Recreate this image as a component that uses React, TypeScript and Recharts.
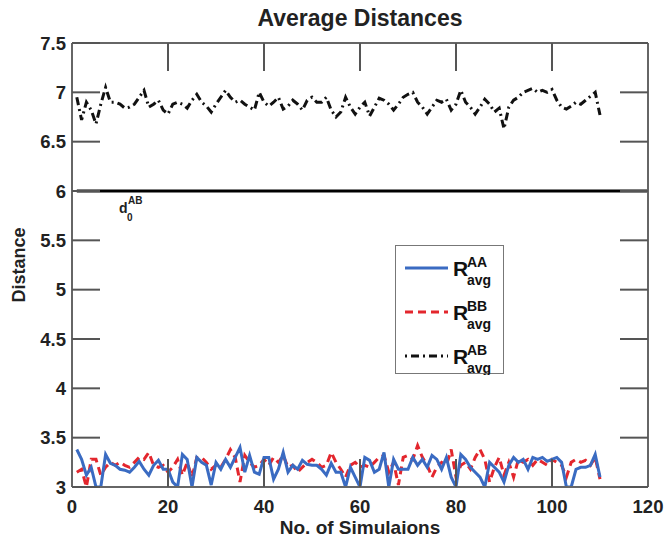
import React from 'react';
import { LineChart, Line, XAxis, YAxis, ReferenceLine, Legend } from 'recharts';

const simulations: number[] = Array.from({ length: 110 }, (_, i) => i + 1);

const rAA: number[] = [
  3.38, 3.28, 3.12, 3.2, 3.0, 3.0, 3.33, 3.24, 3.22, 3.18,
  3.17, 3.15, 3.2, 3.26, 3.18, 3.12, 3.22, 3.27, 3.18, 3.18,
  3.05, 3.0, 3.33, 3.28, 3.0, 3.3, 3.25, 3.22, 3.02, 3.25,
  3.18, 3.28, 3.2, 3.3, 3.4, 3.15, 3.32, 3.15, 3.13, 3.3,
  3.3, 3.08, 3.18, 3.35, 3.15, 3.22, 3.18, 3.27, 3.23, 3.22,
  3.22, 3.18, 3.12, 3.24, 3.15, 3.15, 3.0, 3.2, 3.1, 3.0,
  3.3, 3.27, 3.15, 3.18, 3.35, 3.0, 3.28, 3.18, 3.18, 3.18,
  3.3, 3.22, 3.28, 3.2, 3.32, 3.28, 3.18, 3.3, 3.1, 3.0,
  3.33, 3.28, 3.2, 3.15, 3.1, 3.0, 3.25, 3.2, 3.15, 3.05,
  3.22, 3.3, 3.25, 3.28, 3.18, 3.3, 3.28, 3.3, 3.26, 3.28,
  3.3, 3.25, 3.0, 3.0, 3.18, 3.2, 3.2, 3.22, 3.33, 3.1,
];

const rBB: number[] = [
  3.15, 3.18, 3.0, 3.28, 3.28, 3.12, 3.2, 3.25, 3.22, 3.25,
  3.22, 3.2, 3.25, 3.3, 3.28, 3.35, 3.22, 3.2, 3.22, 3.15,
  3.2, 3.28, 3.12, 3.25, 3.1, 3.3, 3.3, 3.25, 3.18, 3.22,
  3.2, 3.28, 3.38, 3.3, 3.05, 3.32, 3.25, 3.2, 3.22, 3.28,
  3.22, 3.3, 3.25, 3.32, 3.2, 3.22, 3.15, 3.2, 3.25, 3.28,
  3.25, 3.2, 3.22, 3.35, 3.25, 3.18, 3.1, 3.22, 3.25, 3.2,
  3.22, 3.2, 3.25, 3.3, 3.32, 3.15, 3.25, 3.02, 3.3, 3.32,
  3.28, 3.42, 3.3, 3.22, 3.1, 3.2, 3.25, 3.22, 3.38, 3.1,
  3.22, 3.25, 3.18, 3.3, 3.38, 3.28, 3.05, 3.2, 3.3, 3.12,
  3.25, 3.1, 3.28, 3.25, 3.28, 3.22, 3.28, 3.25, 3.22, 3.28,
  3.25, 3.22, 3.1, 3.25, 3.28, 3.25, 3.27, 3.22, 3.3, 3.08,
];

const rAB: number[] = [
  6.95, 6.72, 6.9, 6.82, 6.68, 6.88, 7.05, 6.9, 6.9, 6.88,
  6.84, 6.85, 6.88, 6.95, 7.02, 6.85, 6.88, 6.92, 6.82, 6.78,
  6.88, 6.9, 6.88, 6.84, 6.92, 6.98, 6.9, 6.86, 6.8, 6.88,
  6.95, 7.02, 6.95, 6.9, 6.92, 6.88, 6.85, 6.82, 7.0, 6.9,
  6.86, 6.9, 6.95, 6.83, 6.86, 6.92, 6.88, 6.82, 6.92, 6.95,
  6.9, 6.9, 6.95, 6.82, 6.75, 6.8, 6.95, 6.85, 6.78, 6.85,
  6.9, 6.76, 6.85, 6.94, 6.92, 6.88, 6.82, 6.88, 6.95, 6.98,
  7.0, 6.9, 6.85, 6.78, 6.85, 6.92, 6.9, 6.93, 6.82, 6.88,
  7.02, 6.9, 6.85, 6.78, 6.85, 6.93, 6.88, 6.8, 6.84, 6.63,
  6.85, 6.92, 6.95, 7.0, 7.02, 7.04, 7.0, 7.02, 7.0, 7.03,
  6.92, 6.85, 6.83, 6.86, 6.9, 6.88, 6.92, 6.96, 7.0, 6.77,
];

const d0AB = 6;
const xTicks: number[] = [0, 20, 40, 60, 80, 100, 120];
const yTicks: number[] = [3, 3.5, 4, 4.5, 5, 5.5, 6, 6.5, 7, 7.5];

const titleText = 'Average Distances';
const xLabelText = 'No. of Simulaions';
const yLabelText = 'Distance';

const data = simulations.map((n, i) => ({ n, aa: rAA[i], bb: rBB[i], ab: rAB[i] }));

const FONT = '"Liberation Sans", Arial, Helvetica, sans-serif';
const BLUE = '#3a6bc2';
const RED = '#e3262d';
const BLACK = '#111111';
const FRAME = '#666666';

const tickStyle = { fill: '#222', fontSize: 18.5, fontWeight: 700, fontFamily: FONT };
const NoLabel = () => <g />;

const legendItems = [
  { key: 'aa', sup: 'AA', color: BLUE, dash: undefined as string | undefined },
  { key: 'bb', sup: 'BB', color: RED, dash: '8 5' },
  { key: 'ab', sup: 'AB', color: BLACK, dash: '2 4 8 4' },
];

const LegendBox = () => (
  <svg width={110} height={130} style={{ display: 'block' }}>
    <rect x={0.5} y={0.5} width={108} height={128} fill="#fff" stroke="#777" strokeWidth={1} />
    {legendItems.map((it, i) => {
      const cy = 23 + i * 44;
      return (
        <g key={it.key}>
          <line x1={10} x2={53} y1={cy} y2={cy} stroke={it.color} strokeWidth={3} strokeDasharray={it.dash} />
          <text x={58} y={cy + 8} fontFamily={FONT} fontWeight={700} fontSize={21} fill="#111">R</text>
          <text x={72} y={cy - 1} fontFamily={FONT} fontWeight={700} fontSize={14} fill="#111">{it.sup}</text>
          <text x={72} y={cy + 17} fontFamily={FONT} fontWeight={700} fontSize={14} fill="#111">avg</text>
        </g>
      );
    })}
  </svg>
);

export default function App() {
  return (
    <div style={{ position: 'absolute', left: 0, top: 0, width: 667, height: 540, background: '#fff' }}>
      <LineChart
        width={667}
        height={540}
        data={data}
        margin={{ top: 42, right: 18, bottom: 23, left: 0 }}
      >
        <XAxis
          xAxisId="b"
          dataKey="n"
          type="number"
          domain={[0, 120]}
          ticks={xTicks}
          height={30}
          tickSize={-28}
          tickMargin={41}
          axisLine={{ stroke: FRAME, strokeWidth: 2 }}
          tickLine={{ stroke: '#555', strokeWidth: 2 }}
          tick={tickStyle}
          allowDataOverflow
        />
        <XAxis
          xAxisId="t"
          orientation="top"
          dataKey="n"
          type="number"
          domain={[0, 120]}
          ticks={xTicks}
          height={1}
          tickSize={-28}
          axisLine={{ stroke: FRAME, strokeWidth: 2 }}
          tickLine={{ stroke: '#555', strokeWidth: 2 }}
          tick={<NoLabel />}
          allowDataOverflow
        />
        <YAxis
          yAxisId="l"
          type="number"
          domain={[3, 7.5]}
          ticks={yTicks}
          width={72}
          tickSize={-28}
          tickMargin={34}
          axisLine={{ stroke: FRAME, strokeWidth: 2 }}
          tickLine={{ stroke: '#555', strokeWidth: 2 }}
          tick={tickStyle}
          allowDataOverflow
        />
        <YAxis
          yAxisId="r"
          orientation="right"
          type="number"
          domain={[3, 7.5]}
          ticks={yTicks}
          width={1}
          tickSize={-28}
          axisLine={{ stroke: FRAME, strokeWidth: 2 }}
          tickLine={{ stroke: '#555', strokeWidth: 2 }}
          tick={<NoLabel />}
          allowDataOverflow
        />
        <ReferenceLine
          xAxisId="b"
          yAxisId="l"
          segment={[{ x: 1, y: d0AB }, { x: 120, y: d0AB }]}
          stroke="#000"
          strokeWidth={3}
        />
        <Line xAxisId="b" yAxisId="l" dataKey="ab" stroke={BLACK} strokeWidth={3} strokeDasharray="8 4 2 4" dot={false} isAnimationActive={false} />
        <Line xAxisId="b" yAxisId="l" dataKey="bb" stroke={RED} strokeWidth={3} strokeDasharray="8 5" dot={false} isAnimationActive={false} />
        <Line xAxisId="b" yAxisId="l" dataKey="aa" stroke={BLUE} strokeWidth={3} dot={false} isAnimationActive={false} />
        <Legend
          layout="vertical"
          align="center"
          verticalAlign="middle"
          wrapperStyle={{ left: 395, top: 245, width: 110, height: 130 }}
          content={() => <LegendBox />}
        />
      </LineChart>
      <svg width={667} height={540} style={{ position: 'absolute', left: 0, top: 0, pointerEvents: 'none' }}>
        <text x={360} y={26} textAnchor="middle" fontFamily={FONT} fontWeight={700} fontSize={23} fill="#222">{titleText}</text>
        <text x={360} y={534} textAnchor="middle" fontFamily={FONT} fontWeight={700} fontSize={19} fill="#222">{xLabelText}</text>
        <text x={0} y={0} transform="translate(25,265) rotate(-90)" textAnchor="middle" fontFamily={FONT} fontWeight={700} fontSize={18} fill="#222">{yLabelText}</text>
        <text x={119} y={213} fontFamily={FONT} fontWeight={700} fontSize={14} fill="#222">d</text>
        <text x={128} y={204} fontFamily={FONT} fontWeight={700} fontSize={10} fill="#222">AB</text>
        <text x={127} y={221} fontFamily={FONT} fontWeight={700} fontSize={10} fill="#222">0</text>
      </svg>
    </div>
  );
}
